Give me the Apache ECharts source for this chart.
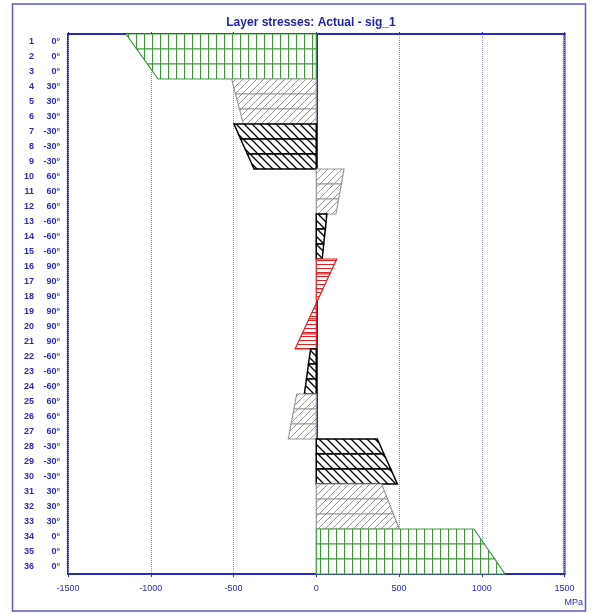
<!DOCTYPE html>
<html><head><meta charset="utf-8">
<script src="https://cdn.jsdelivr.net/npm/echarts@6/dist/echarts.min.js"></script>
<style>html,body{margin:0;padding:0;background:#fff}#c{width:595px;height:614px}</style>
</head><body><div id="c"></div>
<script>
// ---- data ----
const chartTitle = 'Layer stresses: Actual - sig_1';
const unitLabel = 'MPa';
const layers = [1,2,3,4,5,6,7,8,9,10,11,12,13,14,15,16,17,18,19,20,21,22,23,24,25,26,27,28,29,30,31,32,33,34,35,36];
const angles = [0,0,0,30,30,30,-30,-30,-30,60,60,60,-60,-60,-60,90,90,90,90,90,90,-60,-60,-60,60,60,60,-30,-30,-30,30,30,30,0,0,0];
// stress at top and bottom face of each layer (MPa)
const stressTop    = [-1150,-1085,-1020, -511,-488,-464, -497,-457,-416, 168,152,135, 64,55,45, 124,82,40,-2,-44,-86, -34,-47,-59, -118,-135,-152, 369,409,450, 395,431,466, 953,1015,1078];
const stressBottom = [-1085,-1020,-956, -488,-464,-441, -457,-416,-376, 152,135,119, 55,45,36, 82,40,-2,-44,-86,-128, -47,-59,-72, -135,-152,-169, 409,450,490, 431,466,502, 1015,1078,1140];
const xMin = -1500, xMax = 1500, xStep = 500;

// ---- styles ----
const BLUE = '#2b2bb4';
function makePattern(kind, color, lw){
  const c = document.createElement('canvas');
  const ctx = c.getContext('2d');
  if (kind === 'vert'){ c.width = 8; c.height = 8; ctx.strokeStyle = color; ctx.lineWidth = lw; ctx.beginPath(); ctx.moveTo(0.5,-1); ctx.lineTo(0.5,9); ctx.stroke(); }
  else if (kind === 'horiz'){ c.width = 4; c.height = 4; ctx.strokeStyle = color; ctx.lineWidth = lw; ctx.beginPath(); ctx.moveTo(-1,0.5); ctx.lineTo(5,0.5); ctx.stroke(); }
  else if (kind === 'fwd'){ c.width = 7; c.height = 7; ctx.strokeStyle = color; ctx.lineWidth = lw; ctx.beginPath();
    ctx.moveTo(-1,8); ctx.lineTo(8,-1); ctx.moveTo(-3,3); ctx.lineTo(3,-3); ctx.moveTo(4,10); ctx.lineTo(10,4); ctx.stroke(); }
  else { c.width = 8; c.height = 8; ctx.strokeStyle = color; ctx.lineWidth = lw; ctx.beginPath();
    ctx.moveTo(-1,-1); ctx.lineTo(9,9); ctx.moveTo(-3,5); ctx.lineTo(3,11); ctx.moveTo(5,-3); ctx.lineTo(11,3); ctx.stroke(); }
  return {image: c, repeat: 'repeat'};
}
const styleByAngle = {
  '0':   {color:'#3a9a3a', width: 1.2, pattern: makePattern('vert', '#3a9a3a', 1.2)},
  '30':  {color:'#959595', width: 1.1, pattern: makePattern('fwd', '#959595', 1.0)},
  '60':  {color:'#959595', width: 1.1, pattern: makePattern('fwd', '#959595', 1.0)},
  '-30': {color:'#000000', width: 1.5, pattern: makePattern('back', '#000000', 1.3)},
  '-60': {color:'#000000', width: 1.5, pattern: makePattern('back', '#000000', 1.3)},
  '90':  {color:'#e02020', width: 1.2, pattern: makePattern('horiz', '#e02020', 1.1)}
};

const chart = echarts.init(document.getElementById('c'), null, {renderer:'canvas'});
const font = 'Liberation Sans, Arial, sans-serif';
chart.setOption({
  animation: false,
  title: {text: chartTitle, left: 306, top: 12, textAlign: 'center',
    textStyle: {fontSize: 12, fontWeight: 'bold', color: '#2424a8', fontFamily: font}},
  grid: {left: 68, right: 30.5, top: 34, bottom: 40, show: true, borderColor: '#2a2ac0', borderWidth: 2, backgroundColor: 'transparent'},
  xAxis: [{
    type: 'value', min: xMin, max: xMax, interval: xStep, position: 'bottom',
    axisLine: {show: true, onZero: false, lineStyle: {color: '#2a2ac0', width: 2}},
    axisTick: {show: true, length: 3, lineStyle: {color: '#2a2ac0'}},
    axisLabel: {color: BLUE, fontSize: 9, fontFamily: font, margin: 10, formatter: v => String(v)},
    splitLine: {show: true, lineStyle: {color: '#8f8fe0', type: [1,1], width: 1}}
  },{
    type: 'value', min: xMin, max: xMax, interval: xStep, position: 'top',
    axisLine: {show: true, onZero: false, lineStyle: {color: '#2a2ac0', width: 2}},
    axisTick: {show: true, length: 2, lineStyle: {color: '#2a2ac0'}},
    axisLabel: {show: false}, splitLine: {show: false}
  }],
  yAxis: {
    type: 'category', inverse: true, data: layers.map(String),
    axisLine: {show: true, lineStyle: {color: '#2a2ac0', width: 2}},
    axisTick: {show: false},
    axisLabel: {margin: 8, fontFamily: font, fontSize: 9, fontWeight: 'bold', color: BLUE,
      formatter: (v, i) => '{n|' + v + '}{a|' + angles[i] + '°}',
      rich: {n: {width: 16, align: 'right', fontSize: 9, fontWeight: 'bold', color: BLUE, fontFamily: font},
             a: {width: 26, align: 'right', fontSize: 9, fontWeight: 'bold', color: BLUE, fontFamily: font}}},
    splitLine: {show: false}
  },
  graphic: [
    {type: 'rect', shape: {x: 12.5, y: 4, width: 573, height: 607}, style: {fill: 'none', stroke: '#5a5ad2', lineWidth: 1.5}, z: 0},
    {type: 'text', x: 583, y: 603, style: {text: unitLabel, textAlign: 'right', textVerticalAlign: 'middle', fill: BLUE, font: '9px ' + font}}
  ],
  series: [{
    type: 'custom', coordinateSystem: 'cartesian2d', xAxisIndex: 0, yAxisIndex: 0,
    data: layers.map((l, i) => [i, stressTop[i], stressBottom[i], angles[i]]),
    encode: {y: 0, x: [1, 2]},
    renderItem: function(params, api){
      const idx = api.value(0);
      const h = api.size([0, 1])[1];
      const c0 = api.coord([0, idx]);
      const yT = c0[1] - h / 2, yB = c0[1] + h / 2;
      const xT = api.coord([api.value(1), idx])[0];
      const xB = api.coord([api.value(2), idx])[0];
      const st = styleByAngle[String(api.value(3))];
      const pts = [[c0[0], yT], [xT, yT], [xB, yB], [c0[0], yB]];
      return {type: 'group', children: [
        {type: 'polygon', shape: {points: pts}, style: {fill: '#ffffff', stroke: null}},
        {type: 'polygon', shape: {points: pts}, style: {fill: st.pattern, stroke: st.color, lineWidth: st.width}}
      ]};
    }
  }]
});
</script></body></html>
